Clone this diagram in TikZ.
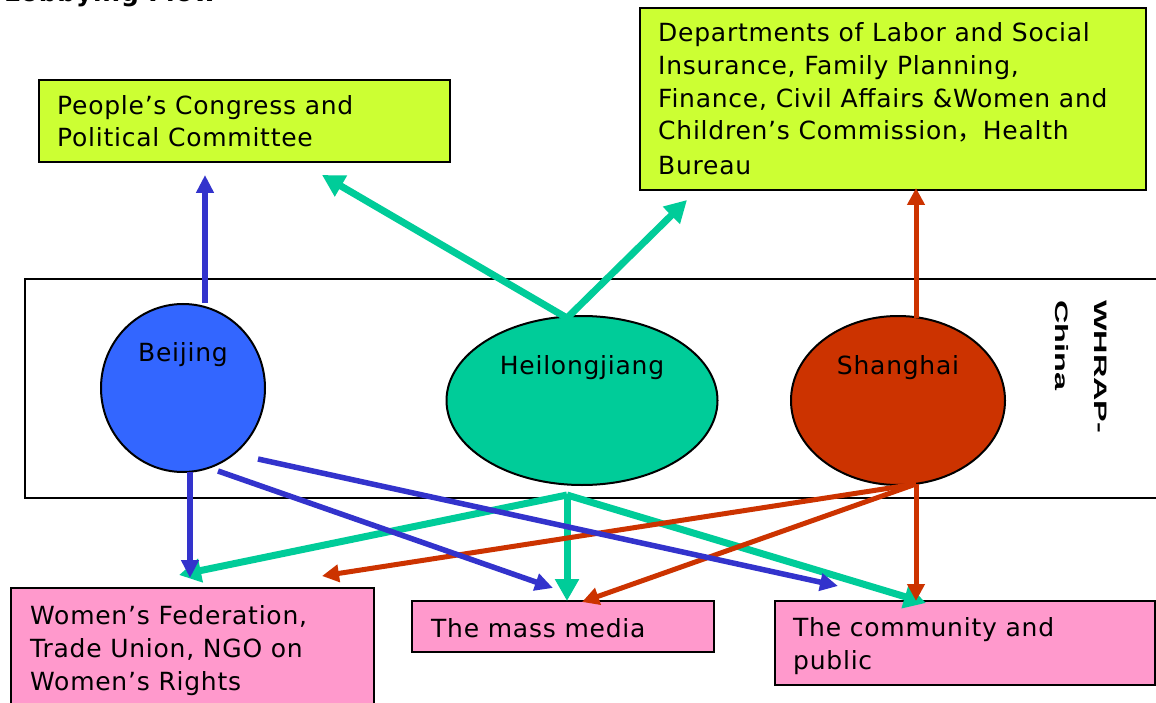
\documentclass[tikz,border=0pt]{standalone}
\usepackage{fontspec}
\setmainfont{DejaVu Sans}[LetterSpace=3]
\newfontfamily\cjk{Noto Sans CJK SC}
\newfontfamily\whrapfont{Liberation Sans}[BoldFont={Liberation Sans Bold}]
\usepackage{graphicx}
\usetikzlibrary{arrows.meta,shapes.geometric}
\definecolor{boxlime}{HTML}{CCFF33}
\definecolor{boxpink}{HTML}{FF99CC}
\definecolor{bjblue}{HTML}{3366FF}
\definecolor{arrblue}{HTML}{3333CC}
\definecolor{hlgreen}{HTML}{00CC99}
\definecolor{shred}{HTML}{CC3300}
\begin{document}
\begin{tikzpicture}[x=1pt,y=-1pt,
  txt/.style={align=left, inner sep=0pt, text=black, font=\fontsize{25}{32.7}\selectfont},
  greenbox/.style={draw=black, line width=1.5pt, fill=boxlime, inner sep=0pt},
  pinkbox/.style={draw=black, line width=1.5pt, fill=boxpink, inner sep=0pt},
  region/.style={draw=black, line width=2pt, ellipse, inner sep=0pt},
  bluearrow/.style={draw=arrblue, line width=5.5pt, -{Triangle[length=18pt,width=17pt]}},
  greenarrow/.style={draw=hlgreen, line width=7pt, -{Triangle[length=22pt,width=23pt]}},
  redarrow/.style={draw=shred, line width=5pt, -{Triangle[length=17pt,width=17pt]}},
  vert/.style={font=\whrapfont\bfseries\fontsize{18}{39}\selectfont, rotate=-90, anchor=base west, inner sep=0pt}
]
\useasboundingbox (0,0) rectangle (1156,703);
\fill[white] (0,0) rectangle (1156,703);

% title (cut at the top)
\node[anchor=base west, inner sep=0pt, font=\fontsize{25}{30}\selectfont\bfseries] (title) at (4,2) {Lobbying Flow};

% band
\node[draw=black, line width=2pt, minimum width=1160pt, minimum height=219pt, anchor=north west, inner sep=0pt] (band) at (24,278) {};
\node[vert] (whrapa) at (1094,300) {\scalebox{1.8}[1]{WHRAP-}};
\node[vert] (whrapb) at (1055,300) {\scalebox{1.8}[1]{China}};

% top boxes (multi-line texts: base = baseline of last line)
\node[greenbox, minimum width=411pt, minimum height=82pt] (congress) at (244.5,121) {};
\node[txt, anchor=base west] (congresstxt) at (57,147) {People’s Congress and\\Political Committee};
\node[greenbox, minimum width=506pt, minimum height=182pt] (depts) at (893,99) {};
\node[txt, anchor=base west] (deptstxt) at (658,175) {Departments of Labor and Social\\Insurance, Family Planning,\\Finance, Civil Affairs \&Women and\\Children’s Commission{\cjk ，}Health\\[2.5pt]Bureau};

% regions
\node[region, fill=bjblue, minimum width=164pt, minimum height=168pt] (beijing) at (183,388) {};
\node[region, fill=hlgreen, minimum width=271pt, minimum height=169pt] (heilong) at (582,400.5) {};
\node[region, fill=shred, minimum width=214pt, minimum height=169pt] (shanghai) at (898,400.5) {};
\node[txt, anchor=base] (beijingtxt) at (183,361.5) {Beijing};
\node[txt, anchor=base] (heilongtxt) at (582,374.5) {Heilongjiang};
\node[txt, anchor=base] (shanghaitxt) at (898,374.5) {Shanghai};

% bottom boxes
\node[pinkbox, minimum width=363pt, minimum height=118pt] (womens) at (192.5,647) {};
\node[txt, anchor=base west] (womenstxt) at (30,690) {Women’s Federation,\\Trade Union, NGO on\\Women’s Rights};
\node[pinkbox, minimum width=302pt, minimum height=51pt] (media) at (563,626.5) {};
\node[txt, anchor=base west] (mediatxt) at (431,637.5) {The mass media};
\node[pinkbox, minimum width=380pt, minimum height=84pt] (public) at (965,643) {};
\node[txt, anchor=base west] (publictxt) at (793,669) {The community and\\public};

% connector end points
\coordinate (bjtop) at (205,303);
\coordinate (bjbot) at (190,472);
\coordinate (bjr1) at (218,471);
\coordinate (bjr2) at (258,459);
\coordinate (hltop) at (567,318);
\coordinate (hlbot) at (567,495);
\coordinate (shtop) at (916,318);
\coordinate (shbot) at (916,484);
\coordinate (congin) at (205,175);
\coordinate (conginb) at (322,175);
\coordinate (deptin) at (687,200);
\coordinate (deptinb) at (916,188);
\coordinate (womin) at (190,578);
\coordinate (wominb) at (179,575);
\coordinate (wominc) at (322,576);
\coordinate (medin) at (553,588);
\coordinate (medinb) at (567,601);
\coordinate (medinc) at (582,602);
\coordinate (pubin) at (838,586);
\coordinate (pubinb) at (926,603);
\coordinate (pubinc) at (916,601);

% green
\draw[greenarrow] (hltop) -- (conginb);
\draw[greenarrow] (hltop) -- (deptin);
\draw[greenarrow] (hlbot) -- (wominb);
\draw[greenarrow] (hlbot) -- (medinb);
\draw[greenarrow] (hlbot) -- (pubinb);
% red
\draw[redarrow] (shtop) -- (deptinb);
\draw[redarrow] (shbot) -- (pubinc);
\draw[redarrow] (shbot) -- (wominc);
\draw[redarrow] (shbot) -- (medinc);
% blue
\draw[bluearrow] (bjtop) -- (congin);
\draw[bluearrow] (bjbot) -- (womin);
\draw[bluearrow] (bjr1) -- (medin);
\draw[bluearrow] (bjr2) -- (pubin);
\end{tikzpicture}
\end{document}
